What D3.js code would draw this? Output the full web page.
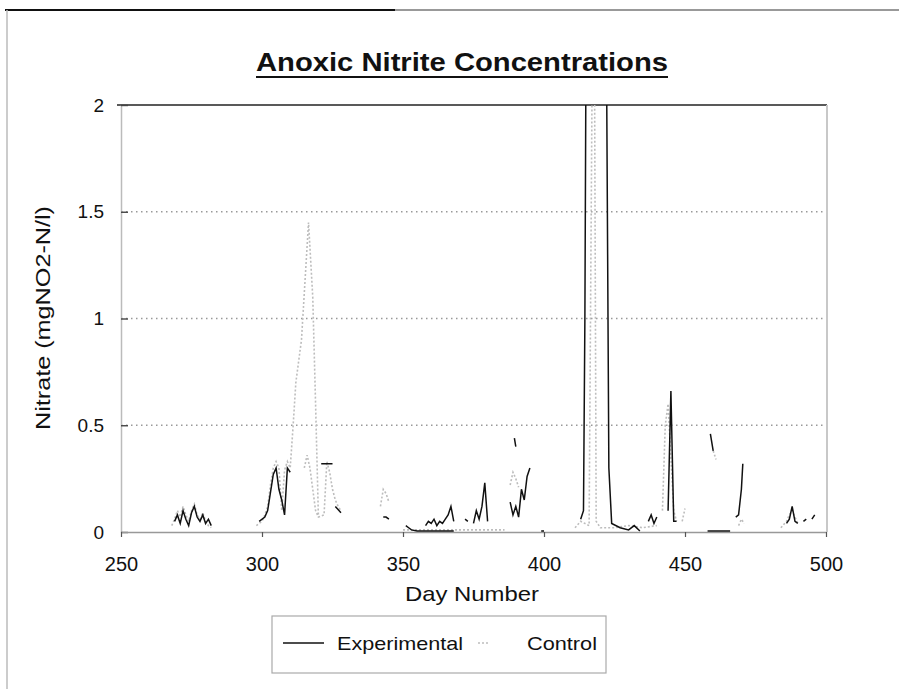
<!DOCTYPE html>
<html>
<head>
<meta charset="utf-8">
<script src="https://cdn.jsdelivr.net/npm/d3@7"></script>
<style>
  html, body { margin: 0; padding: 0; background: #fff; }
  svg { display: block; }
  text { font-family: "Liberation Sans", Arial, sans-serif; fill: #111; }
</style>
</head>
<body>
<svg id="chart" width="899" height="689"></svg>
<script>
// ---- data (day number, value); null marks a gap in the line ----
const title = "Anoxic Nitrite Concentrations";
const xTicks = [250, 300, 350, 400, 450, 500];
const yTicks = [0, 0.5, 1, 1.5, 2];
const yTickLabels = ["0", "0.5", "1", "1.5", "2"];
const gridValues = [0.5, 1, 1.5];

const expDays = [269,270,271,272,273,274,275,276,277,278,279,280,281,282,null,
  299,301,302,304,305,306,307,308,309,310,null,
  321,322,323,325,null,326,328,null,
  343,344,345,null,
  351,352,353,355,360,368,null,
  358,359,360,361,362,363,364,365,366,367,368,null,
  372,373,null,
  375,376,377,378,379,380,null,
  388,389,390,391,392,393,394,395,null,
  389.5,390,null,
  399,400,null,
  413,414,414.5,415,422,423,424,427,430,432,434,null,
  437,438,439,440,null,
  444,445,446,447,null,
  459,460,null,
  458,466,null,
  468,469,470,470.5,null,
  486,487,488,489,490,null,
  492,493,null,
  495,496];
const expValues = [0.05,0.08,0.04,0.10,0.06,0.03,0.09,0.12,0.07,0.05,0.08,0.04,0.06,0.03,null,
  0.05,0.07,0.10,0.27,0.30,0.20,0.15,0.08,0.30,0.28,null,
  0.32,0.32,0.32,0.32,null,0.12,0.09,null,
  0.07,0.07,0.06,null,
  0.03,0.02,0.01,0.005,0.005,0.005,null,
  0.03,0.05,0.04,0.06,0.03,0.05,0.04,0.06,0.08,0.12,0.05,null,
  0.06,0.05,null,
  0.04,0.10,0.06,0.12,0.23,0.05,null,
  0.14,0.08,0.12,0.07,0.20,0.15,0.26,0.30,null,
  0.44,0.40,null,
  0.005,0.005,null,
  0.06,0.10,1.00,2.60,2.60,0.30,0.04,0.02,0.01,0.03,0.005,null,
  0.05,0.08,0.04,0.07,null,
  0.10,0.66,0.05,0.05,null,
  0.46,0.38,null,
  0.005,0.005,null,
  0.07,0.08,0.20,0.32,null,
  0.04,0.06,0.12,0.05,0.04,null,
  0.05,0.06,null,
  0.06,0.08];

const ctlDays = [268,269,270,271,272,273,274,275,276,277,278,279,280,281,282,null,
  298,300,301,302,303,304,305,306,307,308,309,310,311,312,314,316.5,318,319,320,null,
  315,316,317,318,319,320,322,323,324,325,326,327,328,null,
  342,343,344,345,null,
  350,360,370,380,386,null,
  388,389,390,391,null,
  411,413,416,417.3,417.8,418.5,420,425,430,435,440,null,
  442,443,444,445,446,447,null,
  449,450,null,
  460,461,null,
  469,470,471,null,
  484,486,487,488,489,490];
const ctlValues = [0.03,0.06,0.10,0.07,0.12,0.08,0.05,0.10,0.13,0.08,0.06,0.09,0.05,0.03,0.02,null,
  0.03,0.05,0.08,0.12,0.22,0.30,0.33,0.30,0.10,0.29,0.33,0.30,0.49,0.70,0.90,1.45,1.10,0.60,0.07,null,
  0.30,0.36,0.30,0.20,0.10,0.07,0.08,0.33,0.28,0.20,0.15,0.12,0.10,null,
  0.12,0.20,0.18,0.14,null,
  0.01,0.01,0.01,0.01,0.01,null,
  0.22,0.28,0.25,0.21,null,
  0.02,0.05,0.03,2.60,2.60,0.05,0.02,0.02,0.03,0.02,0.03,null,
  0.10,0.50,0.60,0.35,0.10,0.05,null,
  0.05,0.11,null,
  0.38,0.34,null,
  0.03,0.06,0.04,null,
  0.02,0.05,0.08,0.10,0.07,0.04];

// ---- layout ----
const svg = d3.select("#chart");
const L = 121, R = 826, T = 105, B = 532;
const x = d3.scaleLinear().domain([250, 500]).range([L, R]);
const y = d3.scaleLinear().domain([0, 2]).range([B, T]);
const FONT = "Liberation Sans, Arial, sans-serif";

// outer frame remnants of the scanned page
svg.append("line").attr("x1", 5).attr("x2", 395).attr("y1", 10).attr("y2", 10)
  .attr("stroke", "#111").attr("stroke-width", 2);
svg.append("line").attr("x1", 395).attr("x2", 899).attr("y1", 10).attr("y2", 10)
  .attr("stroke", "#777").attr("stroke-width", 1.5);
svg.append("line").attr("x1", 7).attr("x2", 7).attr("y1", 10).attr("y2", 689)
  .attr("stroke", "#bbb").attr("stroke-width", 1.5);

// title
svg.append("text").attr("x", 462).attr("y", 71)
  .attr("text-anchor", "middle").attr("font-size", 25).attr("font-weight", "bold")
  .attr("textLength", 412).attr("lengthAdjust", "spacingAndGlyphs")
  .text(title);
svg.append("line").attr("x1", 256).attr("x2", 668).attr("y1", 77).attr("y2", 77)
  .attr("stroke", "#111").attr("stroke-width", 2);

// gridlines
svg.append("g").selectAll("line").data(gridValues).join("line")
  .attr("x1", L).attr("x2", R).attr("y1", d => y(d)).attr("y2", d => y(d))
  .attr("stroke", "#999").attr("stroke-width", 1.3).attr("stroke-dasharray", "1.5,3.5");

// plot frame
svg.append("line").attr("x1", L - 4).attr("x2", R + 1).attr("y1", T).attr("y2", T)
  .attr("stroke", "#222").attr("stroke-width", 1.5);
svg.append("line").attr("x1", R + 1).attr("x2", R + 1).attr("y1", T).attr("y2", B)
  .attr("stroke", "#c8c8c8").attr("stroke-width", 2);

// axes (tick marks point into the plot on y)
const yAxis = d3.axisLeft(y).tickValues(yTicks).tickSizeInner(-7).tickSizeOuter(0)
  .tickPadding(17).tickFormat((d, i) => yTickLabels[i]);
const gy = svg.append("g").attr("transform", `translate(${L},0)`).call(yAxis);
gy.select(".domain").attr("stroke", "#bbb").attr("stroke-width", 1.5);
gy.selectAll(".tick line").attr("stroke", "#444").attr("stroke-width", 1.4);
gy.selectAll(".tick text").attr("font-size", 19).attr("fill", "#111")
  .attr("font-family", FONT);

const xAxis = d3.axisBottom(x).tickValues(xTicks).tickSizeInner(5).tickSizeOuter(0)
  .tickPadding(20).tickFormat(d3.format("d"));
const gx = svg.append("g").attr("transform", `translate(0,${B})`).call(xAxis);
gx.select(".domain").attr("stroke", "#999").attr("stroke-width", 1.5);
gx.selectAll(".tick line").attr("stroke", "#555").attr("stroke-width", 1.2);
gx.selectAll(".tick text").attr("font-size", 20).attr("fill", "#111")
  .attr("font-family", FONT);

// axis titles
svg.append("text").attr("x", 472).attr("y", 601).attr("text-anchor", "middle")
  .attr("font-size", 21).attr("textLength", 134).attr("lengthAdjust", "spacingAndGlyphs")
  .text("Day Number");
svg.append("text").attr("transform", "translate(50,318) rotate(-90)")
  .attr("text-anchor", "middle").attr("font-size", 21)
  .attr("textLength", 224).attr("lengthAdjust", "spacingAndGlyphs")
  .text("Nitrate (mgNO2-N/l)");

// clip
svg.append("clipPath").attr("id", "clip").append("rect")
  .attr("x", L).attr("y", T).attr("width", R - L).attr("height", B - T);

const line = d3.line()
  .defined(d => d[0] !== null && d[1] !== null)
  .x(d => x(d[0])).y(d => y(d[1]));

const ctl = ctlDays.map((d, i) => [d, ctlValues[i]]);
const exp = expDays.map((d, i) => [d, expValues[i]]);

const plot = svg.append("g").attr("clip-path", "url(#clip)");
plot.append("path").datum(ctl).attr("d", line).attr("fill", "none")
  .attr("stroke", "#bdbdbd").attr("stroke-width", 1.6).attr("stroke-dasharray", "2,2");
plot.append("path").datum(exp).attr("d", line).attr("fill", "none")
  .attr("stroke", "#111").attr("stroke-width", 1.5);

// legend
const lg = svg.append("g");
lg.append("rect").attr("x", 272).attr("y", 616).attr("width", 334).attr("height", 57)
  .attr("fill", "#fff").attr("stroke", "#aaa").attr("stroke-width", 1.2);
lg.append("line").attr("x1", 283).attr("x2", 324).attr("y1", 643).attr("y2", 643)
  .attr("stroke", "#111").attr("stroke-width", 1.5);
lg.append("text").attr("x", 337).attr("y", 650).attr("font-size", 19)
  .attr("textLength", 126).attr("lengthAdjust", "spacingAndGlyphs").text("Experimental");
lg.append("line").attr("x1", 478).attr("x2", 490).attr("y1", 643).attr("y2", 643)
  .attr("stroke", "#bdbdbd").attr("stroke-width", 1.6).attr("stroke-dasharray", "2,2");
lg.append("text").attr("x", 527).attr("y", 650).attr("font-size", 19)
  .attr("textLength", 70).attr("lengthAdjust", "spacingAndGlyphs").text("Control");
</script>
</body>
</html>
